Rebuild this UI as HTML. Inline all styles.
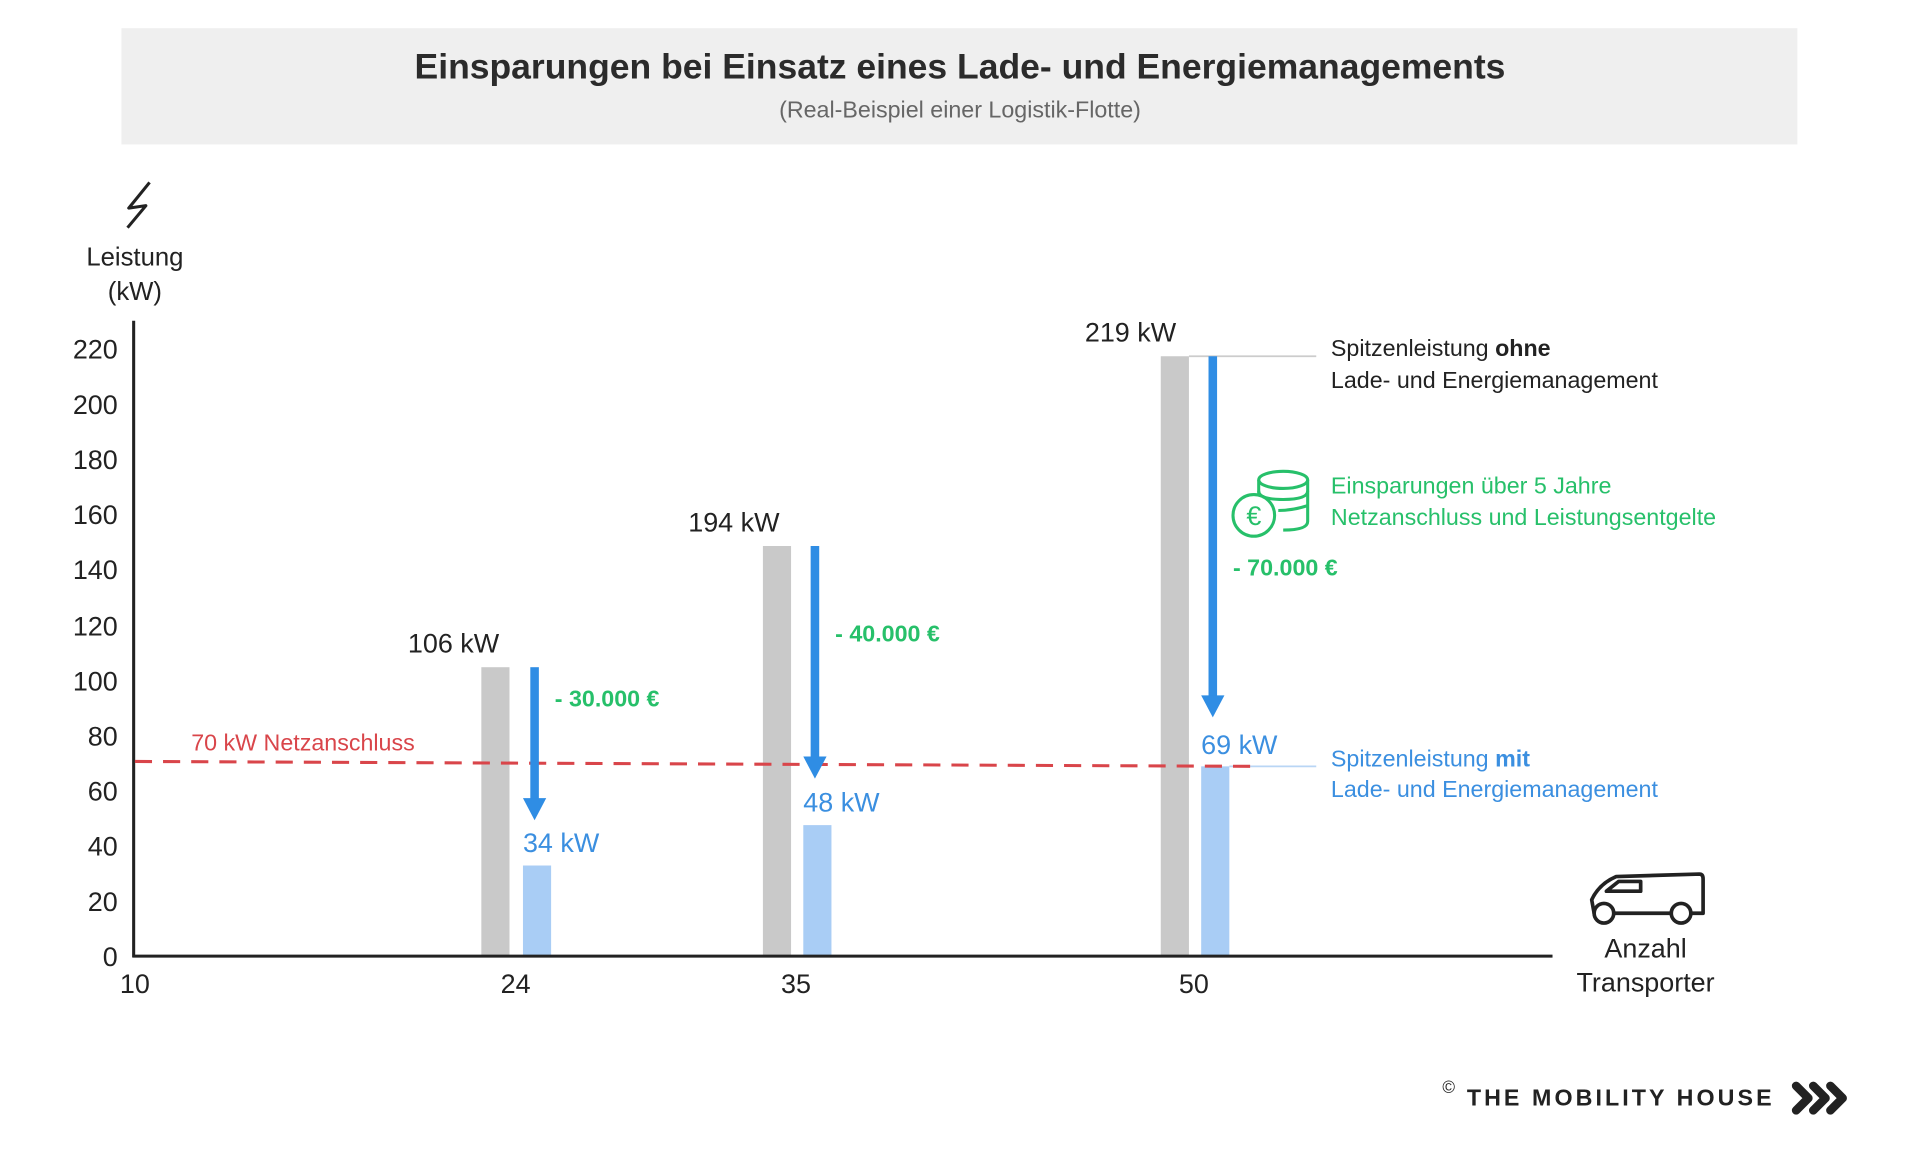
<!DOCTYPE html>
<html><head><meta charset="utf-8"><style>
html,body{margin:0;padding:0;background:#fff;}
svg{display:block;}
text{font-family:"Liberation Sans",sans-serif;}
</style></head><body>
<svg width="1920" height="1163" viewBox="0 0 1568 950" xmlns="http://www.w3.org/2000/svg">
<rect x="0" y="0" width="1568" height="950" fill="#fff"/>
<rect x="99" y="23" width="1369" height="95" fill="#efefef"/>
<text x="784" y="64" text-anchor="middle" font-size="29" font-weight="bold" fill="#2b2b2b">Einsparungen bei Einsatz eines Lade- und Energiemanagements</text>
<text x="784" y="96" text-anchor="middle" font-size="19" fill="#666">(Real-Beispiel einer Logistik-Flotte)</text>

<!-- lightning -->
<path d="M122 149 L105 170 L119 168 L104 186" fill="none" stroke="#222" stroke-width="2.5" stroke-linejoin="round"/>
<text x="110" y="217" text-anchor="middle" font-size="21" fill="#222">Leistung</text>
<text x="110" y="245" text-anchor="middle" font-size="21" fill="#222">(kW)</text>

<!-- y labels -->
<g font-size="22" fill="#222" text-anchor="end">
<text x="96" y="789">0</text><text x="96" y="744">20</text><text x="96" y="699">40</text>
<text x="96" y="654">60</text><text x="96" y="609">80</text><text x="96" y="564">100</text>
<text x="96" y="519">120</text><text x="96" y="473">140</text><text x="96" y="428">160</text>
<text x="96" y="383">180</text><text x="96" y="338">200</text><text x="96" y="293">220</text>
</g>

<!-- bars -->
<rect x="393" y="545" width="23" height="236" fill="#c9c9c9"/>
<rect x="427" y="707" width="23" height="74" fill="#a9cdf5"/>
<rect x="623" y="446" width="23" height="335" fill="#c9c9c9"/>
<rect x="656" y="674" width="23" height="107" fill="#a9cdf5"/>
<rect x="948" y="291" width="23" height="490" fill="#c9c9c9"/>
<rect x="981" y="626" width="23" height="155" fill="#a9cdf5"/>

<line x1="971" y1="291" x2="1075" y2="291" stroke="#ccc" stroke-width="1.5"/>
<line x1="1004" y1="626" x2="1075" y2="626" stroke="#b9d6f5" stroke-width="1.5"/>

<!-- axes -->
<line x1="109" y1="262" x2="109" y2="782" stroke="#222" stroke-width="2.5"/>
<line x1="108" y1="781" x2="1268" y2="781" stroke="#222" stroke-width="2.5"/>

<!-- red dashed -->
<line x1="110" y1="622" x2="1025" y2="626" stroke="#d9454a" stroke-width="2.5" stroke-dasharray="14 9"/>
<text x="156" y="613" font-size="19" fill="#d9454a">70 kW Netzanschluss</text>

<!-- arrows -->
<g fill="#2f8de4">
<rect x="433" y="545" width="7" height="110"/><polygon points="427,652 446,652 436.5,670"/>
<rect x="662" y="446" width="7" height="175"/><polygon points="656,618 675,618 665.5,636"/>
<rect x="987" y="291" width="7" height="280"/><polygon points="981,568 1000,568 990.5,586"/>
</g>

<g font-size="22" fill="#222">
<text x="333" y="533">106 kW</text><text x="562" y="434">194 kW</text><text x="886" y="279">219 kW</text>
</g>
<g font-size="22" fill="#3b8fe0">
<text x="427" y="696">34 kW</text><text x="656" y="663">48 kW</text><text x="981" y="616">69 kW</text>
</g>
<g font-size="19" font-weight="bold" fill="#27c06a">
<text x="453" y="577">- 30.000 €</text><text x="682" y="524">- 40.000 €</text><text x="1007" y="470">- 70.000 €</text>
</g>

<text x="1087" y="291" font-size="19" fill="#222">Spitzenleistung <tspan font-weight="bold">ohne</tspan></text>
<text x="1087" y="317" font-size="19" fill="#222">Lade- und Energiemanagement</text>
<text x="1087" y="403" font-size="19" fill="#27c06a">Einsparungen über 5 Jahre</text>
<text x="1087" y="429" font-size="19" fill="#27c06a">Netzanschluss und Leistungsentgelte</text>
<text x="1087" y="626" font-size="19" fill="#3b8fe0">Spitzenleistung <tspan font-weight="bold">mit</tspan></text>
<text x="1087" y="651" font-size="19" fill="#3b8fe0">Lade- und Energiemanagement</text>

<!-- coins -->
<g fill="none" stroke="#27c06a" stroke-width="2.5">
<ellipse cx="1048" cy="392" rx="20" ry="7"/>
<path d="M1028 392 V426 M1068 392 V426 Q1068 433 1048 433"/>
<path d="M1028 401 Q1028 408 1048 408 Q1068 408 1068 401"/>
<path d="M1044 417 Q1056 417 1068 413"/>
<circle cx="1024" cy="421" r="17" fill="#fff"/>
</g>
<text x="1024" y="429" text-anchor="middle" font-size="22" fill="#27c06a">€</text>

<!-- x labels -->
<g font-size="22" fill="#222" text-anchor="middle">
<text x="110" y="811">10</text><text x="421" y="811">24</text><text x="650" y="811">35</text><text x="975" y="811">50</text>
<text x="1344" y="782">Anzahl</text><text x="1344" y="810">Transporter</text>
</g>

<!-- van -->
<g fill="none" stroke="#222" stroke-width="3" stroke-linejoin="round">
<path d="M1302 746 L1300 735 Q1306 722 1320 716 L1388 714 Q1391 714 1391 718 L1391 746 Z"/>
<path d="M1312 728 L1322 720 L1340 720 L1340 728 Z"/>
<circle cx="1310" cy="746" r="8" fill="#fff"/>
<circle cx="1373" cy="746" r="8" fill="#fff"/>
</g>

<!-- logo -->
<text x="1178" y="893" font-size="14" fill="#222">©</text>
<text x="1198" y="903" font-size="19" font-weight="bold" fill="#222" letter-spacing="2.5">THE MOBILITY HOUSE</text>
<g fill="none" stroke="#222" stroke-width="7" stroke-linecap="round" stroke-linejoin="round">
<path d="M1467 887 L1477 897 L1467 907"/><path d="M1481 887 L1491 897 L1481 907"/><path d="M1495 887 L1505 897 L1495 907"/>
</g>
</svg>
</body></html>
